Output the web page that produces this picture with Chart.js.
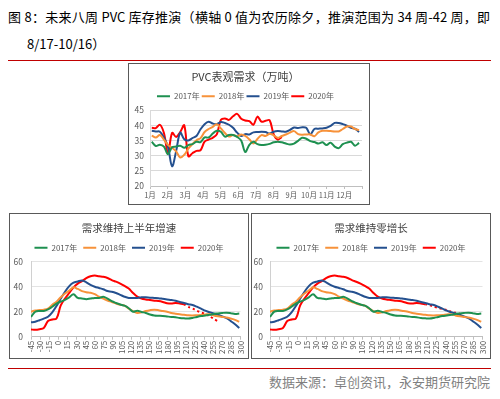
<!DOCTYPE html>
<html><head><meta charset="utf-8">
<script src="https://cdn.jsdelivr.net/npm/chart.js@4.4.0/dist/chart.umd.min.js"></script>
<style>
body{margin:0;background:#fff;width:500px;height:399px;position:relative;overflow:hidden;font-family:"Noto Sans CJK SC","Noto Sans",sans-serif;}
.t1{position:absolute;left:8px;top:8px;width:482px;font-size:13px;line-height:18px;color:#000;text-align:justify;text-align-last:justify;}
.t2{position:absolute;left:27px;top:35px;font-size:13px;line-height:18px;color:#000;}
.rl{position:absolute;left:8px;width:483px;height:1px;background:#c00000;}
.box{position:absolute;border:1px solid #595959;}
.box canvas{display:block;}
.src{position:absolute;right:10px;top:373px;font-size:13px;line-height:18px;color:#7f7f7f;}
</style></head>
<body>
<div class="t1">图 8：未来八周 PVC 库存推演（横轴 0 值为农历除夕，推演范围为 34 周-42 周，即</div>
<div class="t2">8/17-10/16）</div>
<div class="rl" style="top:60px"></div>
<div class="box" style="left:128px;top:63px;width:240px;height:140px"><canvas id="c1" width="240" height="140"></canvas></div>
<div class="box" style="left:9px;top:213px;width:238px;height:144px"><canvas id="c2" width="238" height="144"></canvas></div>
<div class="box" style="left:251px;top:213px;width:238px;height:144px"><canvas id="c3" width="238" height="144"></canvas></div>
<div class="rl" style="top:368px"></div>
<div class="src">数据来源：卓创资讯，永安期货研究院</div>
<script>
// ---------- Top chart: weekly apparent demand (万吨) ----------
const monthLabels = ['1月','2月','3月','4月','5月','6月','7月','8月','9月','10月','11月','12月'];
const seriesNames = ['2017年','2018年','2019年','2020年'];
const demand2017 = [34.6,33.2,33.6,33.0,30.5,32.8,33.0,33.3,32.6,33.5,33.8,34.6,34.5,36.0,36.0,37.3,38.2,37.9,36.3,36.8,36.8,36.2,35.0,31.2,33.6,34.6,33.8,33.5,33.6,33.9,34.4,34.6,34.4,34.0,33.7,34.0,34.9,35.9,35.6,34.8,34.5,34.0,34.4,33.5,34.3,33.0,32.5,33.8,34.3,34.6,33.3,34.2];
const demand2018 = [36.6,36.0,36.8,35.3,33.5,32.6,31.4,29.4,30.3,32.3,33.8,35.1,35.8,37.8,38.8,39.5,40.4,39.0,37.5,36.3,36.8,36.4,37.0,36.5,35.4,34.0,35.5,36.8,36.5,37.2,36.7,35.9,36.5,37.0,37.6,38.1,37.1,36.9,37.0,37.0,36.4,37.7,38.2,38.2,38.1,38.0,38.0,38.8,39.6,39.6,38.8,38.5];
const demand2019 = [38.2,38.0,37.9,36.0,32.9,26.5,31.5,37.6,35.4,35.0,35.8,36.5,38.7,40.4,41.2,40.6,40.4,41.1,40.8,40.2,39.2,37.6,36.5,37.1,37.0,37.7,37.8,37.9,37.8,37.3,37.9,38.1,38.0,37.9,38.5,39.3,39.1,39.4,39.2,37.0,38.8,38.9,39.0,39.2,39.8,40.8,40.8,40.4,39.9,39.2,38.9,37.8];
const demand2020 = [39.2,39.1,40.2,37.5,30.8,37.5,36.2,37.8,40.0,29.8,30.8,31.6,31.8,34.6,35.3,35.9,37.0,41.8,42.3,41.8,43.0,43.8,42.2,41.6,41.4,40.2,42.9,41.2,41.5,41.7,37.0,35.3,36.2];

// ---------- Bottom charts: inventory vs days from Lunar New Year ----------
const days = [-45,-38,-31,-24,-17,-10,-3,4,11,18,25,32,39,46,53,60,67,74,81,88,95,102,109,116,123,130,137,144,151,158,165,172,179,186,193,200,207,214,221,228,235,242,249,256,263,270,277,284,291,298];
const stock2017 = [15.8,20.0,20.5,20.6,21.8,24.0,26.5,28.0,29.5,31.5,34.0,31.0,30.6,30.0,30.5,31.0,31.0,32.0,30.5,28.4,27.0,25.8,24.8,22.8,20.0,20.8,19.8,19.0,17.8,17.0,16.8,16.6,16.2,15.8,15.5,15.0,14.7,14.5,15.0,15.8,16.5,17.0,17.5,18.2,18.6,19.0,19.2,18.8,18.2,18.5];
const stock2018 = [20.0,21.0,21.3,21.6,22.5,25.5,28.0,31.5,34.5,37.0,39.5,38.2,36.5,35.6,35.2,34.0,32.0,30.5,29.0,27.8,26.5,25.5,24.8,22.5,20.5,19.0,19.5,20.5,21.2,21.6,21.2,20.5,20.0,19.0,18.4,17.9,17.5,17.1,17.0,17.2,17.4,17.8,18.0,17.0,16.3,15.8,15.4,14.5,13.5,12.0];
const stock2019 = [11.5,12.0,13.2,14.5,16.0,19.5,24.5,30.5,36.0,40.5,43.2,44.2,45.0,43.5,41.5,40.0,39.0,38.0,36.5,36.0,35.0,33.5,32.0,31.0,31.0,31.0,31.6,31.5,31.2,31.0,30.8,30.3,29.8,29.4,28.8,27.8,27.0,26.0,25.3,24.0,22.5,20.8,19.5,18.6,17.6,16.2,14.8,12.5,10.0,7.0];
const stock2020 = [5.8,5.5,6.0,7.0,12.5,13.8,14.5,25.0,30.5,35.0,39.5,42.5,44.5,46.8,48.3,48.9,48.3,47.9,47.0,45.3,44.0,42.5,40.7,38.5,35.0,32.0,30.5,29.8,29.3,28.8,28.5,27.8,26.8,26.5,27.0,26.6,26.0];
const projDays = [207,214,221,228,235,242,249,256,263];
const projHalfYear = [26.0,23.8,22.5,20.8,19.4,18.2,16.5,14.2,12.3];
const projZeroGrowth = [26.0,25.2,24.2,23.0,22.3,21.3,20.0,19.2,18.6];
const xTicksBottom = {min:-45, max:300, step:15};

const GREEN='#1E9050', ORANGE='#F7923A', BLUE='#24508F', RED='#FF0000';
const colors=[GREEN,ORANGE,BLUE,RED];

Chart.defaults.font.family='"Noto Sans CJK SC","Noto Sans",sans-serif';
Chart.defaults.color='#595959';

function legendOpts(pad){
  return {labels:{boxWidth:13, boxHeight:2, padding:pad, color:'#595959', font:{size:8},
    generateLabels(chart){
      return Chart.defaults.plugins.legend.labels.generateLabels(chart)
        .filter(i=>i.datasetIndex<4).map(i=>Object.assign(i,{lineWidth:0,lineDash:[]}));
    }}};
}
function ds(label,color,pts,extra){
  return Object.assign({label, data:pts, borderColor:color, backgroundColor:color, borderWidth:2, pointRadius:0, tension:0.35, fill:false}, extra||{});
}
const weekToMonth = i => (7*i+3)/30.42;

new Chart(document.getElementById('c1'),{
  type:'line',
  data:{datasets:[demand2017,demand2018,demand2019,demand2020].map((arr,k)=>
    ds(seriesNames[k],colors[k],arr.map((v,i)=>({x:weekToMonth(i),y:v}))))},
  options:{responsive:false, animation:false,
    layout:{padding:{left:0,right:7,top:0,bottom:0}},
    plugins:{
      title:{display:true,text:'PVC表观需求（万吨）',color:'#404040',font:{size:11,weight:'normal'},padding:{top:6,bottom:7}},
      legend:legendOpts(2), tooltip:{enabled:false}},
    scales:{
      x:{type:'linear',min:0,max:12,
        afterFit(s){s.height=18;s.paddingLeft=0;s.paddingRight=0;},
        ticks:{stepSize:1,autoSkip:false,maxRotation:0,padding:2,color:'#595959',font:{size:7.5},
          callback:v=> (v>=0 && v<12) ? monthLabels[v] : ''},
        grid:{drawOnChartArea:false,drawTicks:true,tickLength:3,color:'#bfbfbf'},
        border:{color:'#bfbfbf'}},
      y:{min:20,max:45,afterFit(s){s.width=21;},
        ticks:{stepSize:5,padding:6,color:'#595959',font:{size:8.5}},
        grid:{color:'#d9d9d9',drawTicks:false},border:{color:'#d9d9d9'}}
    }}
});

function bottomChart(id,title,proj,yWidth,yPad){
  const sets=[stock2017,stock2018,stock2019,stock2020].map((arr,k)=>
    ds(seriesNames[k],colors[k],arr.map((v,i)=>({x:days[i],y:v}))));
  sets.push(ds('推演',RED,proj.map((v,i)=>({x:projDays[i],y:v})),{borderDash:[2,3],tension:0.2}));
  new Chart(document.getElementById(id),{
    type:'line', data:{datasets:sets},
    options:{responsive:false,animation:false,
      layout:{padding:{left:0,right:0,top:0,bottom:0}},
      plugins:{
        title:{display:true,text:title,color:'#404040',font:{size:10.5,weight:'normal'},padding:{top:8,bottom:3.1}},
        legend:legendOpts(6), tooltip:{enabled:false}},
      scales:{
        x:{type:'linear',min:xTicksBottom.min,max:xTicksBottom.max,
          afterFit(s){s.height=21.3;s.paddingLeft=0;s.paddingRight=7.5;},
          ticks:{stepSize:xTicksBottom.step,autoSkip:false,minRotation:90,maxRotation:90,padding:1,color:'#595959',font:{size:8}},
          grid:{drawOnChartArea:false,drawTicks:true,tickLength:3,color:'#bfbfbf'},
          border:{color:'#bfbfbf'}},
        y:{min:0,max:60,afterFit(s){s.width=yWidth;},
          ticks:{stepSize:10,padding:yPad,color:'#595959',font:{size:8.5}},
          grid:{color:'#e3e3e3',drawTicks:false},border:{color:'#d0d0d0'}}
      }}
  });
}
bottomChart('c2','需求维持上半年增速',projHalfYear,21,8);
bottomChart('c3','需求维持零增长',projZeroGrowth,18,7);
</script>
</body></html>
